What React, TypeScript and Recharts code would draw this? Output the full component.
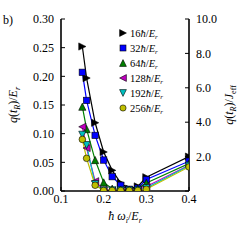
import React from 'react';
import { LineChart, Line, XAxis, YAxis } from 'recharts';

// drive frequency (units of E_r / hbar)
const omegas = [0.15, 0.16, 0.18, 0.2, 0.22, 0.24, 0.26, 0.28, 0.3, 0.4];

// q(t_R)/E_r for each ramp time
const q16 = [0.252, 0.197, 0.119, 0.068, 0.036, 0.014, 0.004, 0.008, 0.024, 0.06];
const q32 = [0.207, 0.158, 0.097, 0.054, 0.025, 0.01, 0.003, 0.005, 0.02, 0.052];
const q64 = [0.147, 0.108, 0.054, 0.015, 0.004, 0.002, 0.002, 0.004, 0.014, 0.048];
const q128 = [0.112, 0.075, 0.017, 0.002, 0.001, 0.001, 0.001, 0.002, 0.008, 0.045];
const q192 = [0.098, 0.08, 0.012, 0.001, 0.001, 0.001, 0.001, 0.001, 0.005, 0.044];
const q256 = [0.09, 0.057, 0.01, 0.001, 0.001, 0.001, 0.001, 0.001, 0.003, 0.042];

const rampTimes = ['16', '32', '64', '128', '192', '256'];

const xTicks = [0.1, 0.2, 0.3, 0.4];
const leftTicks = [0, 0.05, 0.1, 0.15, 0.2, 0.25, 0.3];
const rightTicks = [0, 2, 4, 6, 8, 10];

type Shape = 'right' | 'square' | 'up' | 'left' | 'down' | 'circle';

const seriesList = [
  { key: 't16', values: q16, color: '#000000', shape: 'right' as Shape },
  { key: 't32', values: q32, color: '#0000ff', shape: 'square' as Shape },
  { key: 't64', values: q64, color: '#008000', shape: 'up' as Shape },
  { key: 't128', values: q128, color: '#bf00bf', shape: 'left' as Shape },
  { key: 't192', values: q192, color: '#00bfbf', shape: 'down' as Shape },
  { key: 't256', values: q256, color: '#bfbf00', shape: 'circle' as Shape },
];

const data = omegas.map((w, i) => {
  const row: Record<string, number> = { w };
  seriesList.forEach(s => {
    row[s.key] = s.values[i];
  });
  return row;
});

const FONT = "'Liberation Serif', 'DejaVu Serif', serif";
const serif = { fontFamily: FONT };

const marker = (shape: Shape, fill: string, cx: number, cy: number, s = 3.6) => {
  const common = { fill, stroke: '#000', strokeWidth: 0.6 };
  switch (shape) {
    case 'square':
      return <rect x={cx - s + 0.4} y={cy - s + 0.4} width={2 * s - 0.8} height={2 * s - 0.8} {...common} />;
    case 'circle':
      return <circle cx={cx} cy={cy} r={s - 0.3} {...common} />;
    case 'up':
      return <polygon points={`${cx},${cy - s} ${cx + s},${cy + s} ${cx - s},${cy + s}`} {...common} />;
    case 'down':
      return <polygon points={`${cx},${cy + s} ${cx + s},${cy - s} ${cx - s},${cy - s}`} {...common} />;
    case 'left':
      return <polygon points={`${cx - s},${cy} ${cx + s},${cy - s} ${cx + s},${cy + s}`} {...common} />;
    default:
      return <polygon points={`${cx + s},${cy} ${cx - s},${cy - s} ${cx - s},${cy + s}`} {...common} />;
  }
};

const LeftLabel = (props: any) => {
  const vb = props.viewBox || { x: 0, y: 19, width: 61, height: 172 };
  const cx = vb.x + 17;
  const cy = vb.y + vb.height / 2;
  return (
    <g style={serif} fill="#000">
      <text x={3} y={24} fontSize={12}>b)</text>
      <text transform={`translate(${cx},${cy}) rotate(-90)`} textAnchor="middle" fontSize={12}>
        <tspan fontStyle="italic">q</tspan>
        <tspan>(</tspan>
        <tspan fontStyle="italic">t</tspan>
        <tspan fontSize={8} dy={3} fontStyle="italic">R</tspan>
        <tspan dy={-3}>)/</tspan>
        <tspan fontStyle="italic">E</tspan>
        <tspan fontSize={8} dy={3} fontStyle="italic">r</tspan>
      </text>
    </g>
  );
};

// right axis title plus the in-plot legend (placed relative to the right axis)
const RightLabel = (props: any) => {
  const vb = props.viewBox || { x: 189, y: 19, width: 61, height: 172 };
  const cx = vb.x + 44;
  const cy = vb.y + vb.height / 2;
  const mx = vb.x - 66;
  return (
    <g style={serif} fill="#000">
      <text transform={`translate(${cx},${cy}) rotate(-90)`} textAnchor="middle" fontSize={12}>
        <tspan fontStyle="italic">q</tspan>
        <tspan>(</tspan>
        <tspan fontStyle="italic">t</tspan>
        <tspan fontSize={8} dy={3} fontStyle="italic">R</tspan>
        <tspan dy={-3}>)/</tspan>
        <tspan fontStyle="italic">J</tspan>
        <tspan fontSize={8} dy={3}>eff</tspan>
      </text>
      {seriesList.map((s, i) => {
        const y = vb.y + 14 + i * 15;
        return (
          <g key={s.key}>
            {marker(s.shape, s.color, mx, y, 3.4)}
            <text x={mx + 7} y={y + 3.5} fontSize={10.5}>
              <tspan>{rampTimes[i]}</tspan>
              <tspan fontStyle="italic">ħ</tspan>
              <tspan>/</tspan>
              <tspan fontStyle="italic">E</tspan>
              <tspan fontSize={7} dy={2.5} fontStyle="italic">r</tspan>
            </text>
          </g>
        );
      })}
    </g>
  );
};

const BottomLabel = (props: any) => {
  const vb = props.viewBox || { x: 61, y: 191, width: 128, height: 49 };
  const cx = vb.x + vb.width / 2;
  return (
    <text x={cx} y={vb.y + 29} textAnchor="middle" fontSize={12} style={serif} fill="#000">
      <tspan fontStyle="italic">ħ ω</tspan>
      <tspan fontSize={8} dy={3} fontStyle="italic">i</tspan>
      <tspan dy={-3}>/</tspan>
      <tspan fontStyle="italic">E</tspan>
      <tspan fontSize={8} dy={3} fontStyle="italic">r</tspan>
    </text>
  );
};

const tickStyle = { fontSize: 12, fill: '#000', style: serif };

export default function App() {
  return (
    <div style={{ position: 'absolute', left: 0, top: 0, width: 250, height: 240, background: '#fff', fontFamily: FONT }}>
      <LineChart
        width={250}
        height={240}
        data={data}
        margin={{ top: 19, right: 0, bottom: 0, left: 0 }}
        style={serif}
      >
        <XAxis
          xAxisId="bottom"
          dataKey="w"
          type="number"
          domain={[0.1, 0.4]}
          ticks={xTicks}
          tickFormatter={(v: number) => v.toFixed(1)}
          height={49}
          tick={tickStyle}
          tickSize={-4}
          tickMargin={7}
          axisLine={{ stroke: '#000', strokeWidth: 1.6 }}
          tickLine={{ stroke: '#000' }}
          allowDataOverflow
          label={<BottomLabel />}
        />
        <XAxis
          xAxisId="top"
          orientation="top"
          dataKey="w"
          type="number"
          domain={[0.1, 0.4]}
          ticks={xTicks}
          height={0}
          tick={false}
          tickSize={-4}
          axisLine={{ stroke: '#000', strokeWidth: 1.6 }}
          tickLine={{ stroke: '#000' }}
          allowDataOverflow
        />
        <YAxis
          yAxisId="left"
          type="number"
          domain={[0, 0.3]}
          ticks={leftTicks}
          tickFormatter={(v: number) => v.toFixed(2)}
          width={61}
          tick={tickStyle}
          tickSize={-4}
          tickMargin={11}
          axisLine={{ stroke: '#000', strokeWidth: 1.6 }}
          tickLine={{ stroke: '#000' }}
          allowDataOverflow
          label={<LeftLabel />}
        />
        <YAxis
          yAxisId="right"
          orientation="right"
          type="number"
          domain={[0, 10]}
          ticks={rightTicks}
          tickFormatter={(v: number) => (v === 0 ? '' : v.toFixed(1))}
          width={61}
          tick={{ ...tickStyle, textAnchor: 'start' }}
          tickSize={-4}
          tickMargin={11}
          axisLine={{ stroke: '#000', strokeWidth: 1.6 }}
          tickLine={{ stroke: '#000' }}
          allowDataOverflow
          label={<RightLabel />}
        />
        {seriesList.map(s => (
          <Line
            key={s.key}
            xAxisId="bottom"
            yAxisId="left"
            type="linear"
            dataKey={s.key}
            stroke={s.color}
            strokeWidth={1.2}
            isAnimationActive={false}
            dot={(p: any) => (
              <g key={`${s.key}-${p.index}`}>{marker(s.shape, s.color, p.cx, p.cy)}</g>
            )}
            activeDot={false}
          />
        ))}
      </LineChart>
    </div>
  );
}
